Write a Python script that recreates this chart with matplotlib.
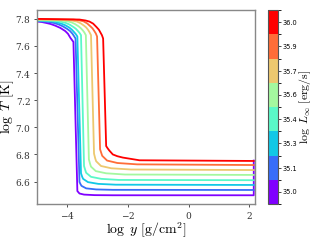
import numpy as np
import matplotlib
matplotlib.use("Agg")
import matplotlib.pyplot as plt
from matplotlib.colors import ListedColormap, BoundaryNorm
from matplotlib.cm import ScalarMappable

plt.rcParams['mathtext.fontset'] = 'cm'
plt.rcParams['font.family'] = 'serif'
plt.rcParams['font.serif'] = ['DejaVu Serif']
plt.rcParams['axes.formatter.use_mathtext'] = True

# log L_inf values of the models (colorbar)
log_L = [35.0, 35.14, 35.29, 35.43, 35.57, 35.71, 35.86, 36.0]

# profiles: log y [g/cm^2] and log T [K]
x_0 = [-5.0, -4.85, -4.7, -4.55, -4.4, -4.23, -4.07, -3.98, -3.9, -3.85, -3.80,
       -3.67, -3.60, -3.45, -3.1, -2.5, 2.15, 2.15]
T_0 = [7.78, 7.777, 7.77, 7.762, 7.75, 7.733, 7.71, 7.69, 7.66, 7.645, 7.63,
       6.53, 6.512, 6.504, 6.500, 6.499, 6.499, 6.755]
x_1 = [-5.0, -4.6, -4.45, -4.3, -4.15, -4.0, -3.91, -3.83, -3.78, -3.73,
       -3.60, -3.56, -3.53, -3.38, -3.05, -2.5, 2.15]
T_1 = [7.785, 7.777, 7.770, 7.76, 7.745, 7.725, 7.71, 7.69, 7.673, 7.655,
       6.597, 6.578, 6.568, 6.550, 6.542, 6.539, 6.538]
x_2 = [-5.0, -4.5, -4.35, -4.2, -4.06, -3.93, -3.85, -3.77, -3.72, -3.67,
       -3.55, -3.51, -3.48, -3.32, -2.98, -2.4, 2.15]
T_2 = [7.788, 7.782, 7.775, 7.765, 7.752, 7.735, 7.72, 7.70, 7.687, 7.67,
       6.661, 6.635, 6.62, 6.596, 6.583, 6.577, 6.575]
x_3 = [-5.0, -4.4, -4.22, -4.05, -3.92, -3.8, -3.72, -3.65, -3.60, -3.55,
       -3.45, -3.41, -3.38, -3.22, -2.88, -2.3, 2.15]
T_3 = [7.79, 7.785, 7.779, 7.77, 7.757, 7.74, 7.727, 7.71, 7.697, 7.68,
       6.715, 6.685, 6.665, 6.635, 6.620, 6.612, 6.61]
x_4 = [-5.0, -4.2, -4.03, -3.87, -3.75, -3.63, -3.56, -3.49, -3.44, -3.39,
       -3.29, -3.25, -3.22, -3.06, -2.72, -2.1, 2.15]
T_4 = [7.793, 7.788, 7.783, 7.775, 7.762, 7.745, 7.732, 7.715, 7.70, 7.68,
       6.764, 6.73, 6.71, 6.677, 6.661, 6.652, 6.649]
x_5 = [-5.0, -4.0, -3.84, -3.68, -3.56, -3.45, -3.38, -3.32, -3.27, -3.22,
       -3.12, -3.08, -3.05, -2.89, -2.55, -1.9, 2.15]
T_5 = [7.796, 7.792, 7.787, 7.78, 7.767, 7.75, 7.737, 7.72, 7.702, 7.68,
       6.806, 6.77, 6.75, 6.715, 6.698, 6.689, 6.685]
x_6 = [-5.0, -3.8, -3.63, -3.47, -3.35, -3.24, -3.17, -3.11, -3.06, -3.02,
       -2.92, -2.88, -2.85, -2.69, -2.35, -1.7, 2.15]
T_6 = [7.798, 7.795, 7.79, 7.782, 7.767, 7.745, 7.73, 7.71, 7.692, 7.67,
       6.838, 6.81, 6.79, 6.755, 6.737, 6.727, 6.722]
x_7 = [-5.0, -3.6, -3.4, -3.27, -3.15, -3.04, -2.96, -2.91, -2.86, -2.82,
       -2.72, -2.67, -2.62, -2.50, -2.35, -2.17, -1.62, 2.15]
T_7 = [7.80, 7.795, 7.788, 7.78, 7.765, 7.74, 7.72, 7.70, 7.68, 7.655,
       6.862, 6.845, 6.83, 6.80, 6.787, 6.777, 6.757, 6.752]

xs = [x_0, x_1, x_2, x_3, x_4, x_5, x_6, x_7]
Ts = [T_0, T_1, T_2, T_3, T_4, T_5, T_6, T_7]

colors = plt.cm.rainbow(np.linspace(0, 1, len(log_L)))

fig = plt.figure(figsize=(3.14, 2.45), dpi=100)
ax = fig.add_axes([0.118, 0.167, 0.694, 0.792])
for x, T, c in zip(xs, Ts, colors):
    ax.plot(x, T, color=c, lw=1.3)

ax.set_xlim(-5, 2.19)
ax.set_xticks([-4, -2, 0, 2])
ax.set_yticks([6.6, 6.8, 7.0, 7.2, 7.4, 7.6, 7.8])
ax.tick_params(labelsize=6.5, length=2.5, width=0.6, colors='#333333', pad=2)
for s in ax.spines.values():
    s.set_color('#888888')
    s.set_linewidth(1.0)
ax.set_xlabel(r'$\log\ y\ [\mathrm{g/cm^2}]$', fontsize=10)
ax.set_ylabel(r'$\log\ T\ [\mathrm{K}]$', fontsize=10)
ax.xaxis.set_label_coords(0.5, -0.085)
ax.yaxis.set_label_coords(-0.095, 0.5)

# discrete colorbar
step = log_L[1] - log_L[0]
bounds = [log_L[0] - step / 2] + [(a + b) / 2 for a, b in zip(log_L[:-1], log_L[1:])] + [log_L[-1] + step / 2]
cmap = ListedColormap(colors)
norm = BoundaryNorm(bounds, cmap.N)
cax = fig.add_axes([0.853, 0.167, 0.031, 0.792])
cb = fig.colorbar(ScalarMappable(norm=norm, cmap=cmap), cax=cax, ticks=log_L)
cb.ax.set_yticklabels(['%.1f' % v for v in log_L], family='DejaVu Sans', fontsize=4.8)
cb.ax.tick_params(length=2, width=0.5, pad=1.5)
cb.outline.set_edgecolor('#555555')
cb.outline.set_linewidth(0.8)
cb.set_label(r'$\log\ L_\infty\ [\mathrm{erg/s}]$', fontsize=8.5)
cb.ax.yaxis.set_label_coords(2.95, 0.5)

fig.savefig('out.png', dpi=100)
